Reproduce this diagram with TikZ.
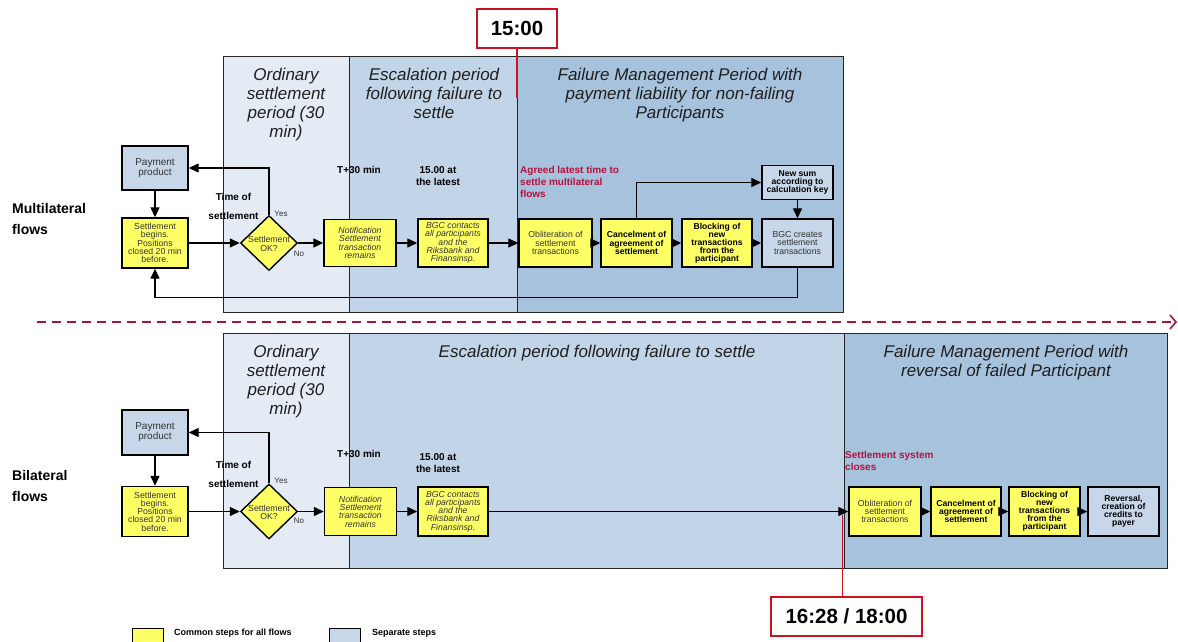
\documentclass[tikz,border=0pt]{standalone}
\usepackage{fontspec}
\setmainfont{Liberation Sans}
\usetikzlibrary{arrows.meta,shapes.geometric}
\definecolor{colA}{HTML}{E4EBF4}
\definecolor{colB}{HTML}{C2D4E8}
\definecolor{colC}{HTML}{A7C2DD}
\definecolor{yel}{HTML}{FFFF66}
\definecolor{lblue}{HTML}{C7D6E9}
\definecolor{redtxt}{HTML}{B3123C}
\definecolor{redln}{HTML}{CC1122}
\definecolor{dashred}{HTML}{A4143C}
\definecolor{txtg}{HTML}{333333}
\definecolor{panelln}{HTML}{262626}
\tikzset{
  ybox/.style={draw=black, line width=1.4pt, fill=yel, align=center, inner sep=0pt,
    font=\fontsize{8.7}{8.3}\selectfont, text=txtg},
  bbox/.style={ybox, fill=lblue},
  boldtxt/.style={font=\bfseries\fontsize{8.6}{8.1}\selectfont, text=black},
  itxt/.style={font=\itshape\fontsize{8.7}{8.3}\selectfont},
  arr/.style={line width=1.3pt, -{Triangle[length=10pt,width=9pt]}},
  plain/.style={line width=1.3pt},
  panel/.style={draw=panelln, line width=1pt},
  hdr/.style={font=\itshape\fontsize{17}{19}\selectfont, align=center, inner sep=0pt, text=black!88},
  lbl/.style={font=\bfseries\fontsize{10}{12}\selectfont, inner sep=0pt, align=center},
  redlbl/.style={font=\bfseries\fontsize{10}{12}\selectfont, inner sep=0pt, align=left, text=redtxt},
  yn/.style={font=\fontsize{8}{9}\selectfont, inner sep=0pt, text=txtg},
  flowlbl/.style={font=\bfseries\fontsize{14}{21}\selectfont, inner sep=0pt, align=left},
  timebox/.style={draw=redln, line width=1.3pt, fill=white, font=\bfseries\fontsize{20.5}{22}\selectfont, inner sep=0pt},
  redline/.style={draw=redln, line width=1.3pt},
  dmd/.style={diamond, draw=black, line width=1.4pt, fill=yel, minimum width=57pt, minimum height=55pt, inner sep=0pt},
  dtext/.style={font=\fontsize{8.7}{8.3}\selectfont, align=center, inner sep=0pt, text=txtg},
  legtxt/.style={font=\bfseries\fontsize{9}{10}\selectfont, inner sep=0pt}
}
\begin{document}
\begin{tikzpicture}[x=1pt,y=-1pt]
\useasboundingbox (0,0) rectangle (1178,642);

% ---------- top panel ----------
\fill[colA] (223,57) rectangle (349,312);
\fill[colB] (349,57) rectangle (517,312);
\fill[colC] (517,57) rectangle (843,312);
\draw[panel] (223,57) rectangle (843,312);
\draw[panel] (349,57) -- (349,312);
\draw[panel] (517,57) -- (517,312);

% ---------- bottom panel ----------
\fill[colA] (223,333) rectangle (349,568);
\fill[colB] (349,333) rectangle (844,568);
\fill[colC] (844,333) rectangle (1167,568);
\draw[panel] (223,333) rectangle (1167,568);
\draw[panel] (349,333) -- (349,568);
\draw[panel] (844,333) -- (844,568);

% ---------- headers ----------
\node[hdr, anchor=north] (h11) at (286,68) {Ordinary\\settlement\\period (30\\min)};
\node[hdr, anchor=north] (h12) at (434,68) {Escalation period\\following failure to\\settle};
\node[hdr, anchor=north] (h13) at (680,68) {Failure Management Period with\\payment liability for non-failing\\Participants};
\node[hdr, anchor=north] (h21) at (286,344.5) {Ordinary\\settlement\\period (30\\min)};
\node[hdr, anchor=north] (h22) at (597,344.5) {Escalation period following failure to settle};
\node[hdr, anchor=north] (h23) at (1006,344.5) {Failure Management Period with\\reversal of failed Participant};

% ---------- time markers ----------
\node[timebox, minimum width=80pt, minimum height=39pt] (t1500) at (517,28.5) {15:00};
\coordinate (r1) at (517,98);
\draw[redline] (t1500.south) -- (r1);
\node[timebox, minimum width=151pt, minimum height=39pt] (t1628) at (846.5,616.5) {16:28 / 18:00};
\coordinate (r2) at (842.5,515);
\draw[redline] (t1628.north -| r2) -- (r2);

% ---------- dashed separator ----------
\coordinate (da) at (37,322);
\coordinate (db) at (1177,322);
\draw[dashred, line width=1.6pt, dash pattern=on 9pt off 6pt, -{Straight Barb[length=6pt,width=14pt]}] (da) -- (db);

% ---------- flow labels ----------
\node[flowlbl, anchor=north west] (ml) at (12,203.5) {Multilateral\\flows};
\node[flowlbl, anchor=north west] (bl) at (12,470) {Bilateral\\flows};

% ---------- top row nodes ----------
\node[bbox, minimum width=66pt, minimum height=44pt, font=\fontsize{10}{10}\selectfont] (pp1) at (155,168) {Payment\\product};
\node[ybox, minimum width=66pt, minimum height=50pt] (sb1) at (155,243) {Settlement\\begins.\\Positions\\closed 20 min\\before.};
\node[dmd] (d1) at (269,243) {};
\node[dtext] (d1t) at (269,244) {Settlement\\OK?};
\node[ybox, itxt, minimum width=72pt, minimum height=47pt] (nt1) at (360,243) {Notification\\Settlement\\transaction\\remains};
\node[ybox, itxt, minimum width=70pt, minimum height=48pt] (bc1) at (453,243) {BGC contacts\\all participants\\and the\\Riksbank and\\Finansinsp.};
\node[ybox, minimum width=73pt, minimum height=48pt] (ob1) at (555.5,243) {Obliteration of\\settlement\\transactions};
\node[ybox, boldtxt, minimum width=71pt, minimum height=48pt] (ca1) at (636.5,243) {Cancelment of\\agreement of\\settlement};
\node[ybox, boldtxt, minimum width=70pt, minimum height=48pt] (bk1) at (717,243) {Blocking of\\new\\transactions\\from the\\participant};
\node[bbox, minimum width=71pt, minimum height=48pt] (bg1) at (797.5,243) {BGC creates\\settlement\\transactions};
\node[bbox, boldtxt, minimum width=71pt, minimum height=34pt] (ns1) at (797.5,182.5) {New sum\\according to\\calculation key};

\node[lbl, anchor=north] (tm1) at (233.5,192.7) {Time of\\[7pt]settlement};
\node[yn, anchor=base] (y1) at (281,216) {Yes};
\node[yn, anchor=base] (n1) at (299,256) {No};
\node[lbl, anchor=base] (tp1) at (359,173) {T+30 min};
\node[lbl, anchor=north] (la1) at (438,166.8) {15.00 at\\the latest};
\node[redlbl, anchor=north west] (ag1) at (520,165.8) {Agreed latest time to\\settle multilateral\\flows};

% top row connectors
\draw[arr] (pp1.south) -- (sb1.north);
\draw[arr] (sb1.east) -- (d1.west);
\draw[arr] (d1.north) |- (pp1.east);
\draw[arr] (d1.east) -- (nt1.west);
\draw[arr] (nt1.east) -- (bc1.west);
\draw[arr] (bc1.east) -- (ob1.west);
\draw[arr] (ob1.east) -- (ca1.west);
\draw[arr] (ca1.east) -- (bk1.west);
\draw[arr] (bk1.east) -- (bg1.west);
\draw[arr] (ca1.north) |- (ns1.west);
\draw[arr] (ns1.south) -- (bg1.north);
\draw[arr] (bg1.south) -- ++(0,30) -| (sb1.south);

% ---------- bottom row nodes ----------
\node[bbox, minimum width=66pt, minimum height=45pt, font=\fontsize{10}{10}\selectfont] (pp2) at (155,432.5) {Payment\\product};
\node[ybox, minimum width=66pt, minimum height=50pt] (sb2) at (155,511.5) {Settlement\\begins.\\Positions\\closed 20 min\\before.};
\node[dmd] (d2) at (269,511.5) {};
\node[dtext] (d2t) at (269,512.5) {Settlement\\OK?};
\node[ybox, itxt, minimum width=72pt, minimum height=48pt] (nt2) at (360.5,511.5) {Notification\\Settlement\\transaction\\remains};
\node[ybox, itxt, minimum width=70pt, minimum height=49pt] (bc2) at (453,511.5) {BGC contacts\\all participants\\and the\\Riksbank and\\Finansinsp.};
\node[ybox, minimum width=72pt, minimum height=49pt] (ob2) at (885,511.5) {Obliteration of\\settlement\\transactions};
\node[ybox, boldtxt, minimum width=70pt, minimum height=49pt] (ca2) at (966,511.5) {Cancelment of\\agreement of\\settlement};
\node[ybox, boldtxt, minimum width=71pt, minimum height=49pt] (bk2) at (1044.5,511.5) {Blocking of\\new\\transactions\\from the\\participant};
\node[bbox, boldtxt, minimum width=71pt, minimum height=49pt] (rv2) at (1123.5,511.5) {Reversal,\\creation of\\credits to\\payer};

\node[lbl, anchor=north] (tm2) at (233.5,460.7) {Time of\\[7pt]settlement};
\node[yn, anchor=base] (y2) at (281,483) {Yes};
\node[yn, anchor=base] (n2) at (299,523) {No};
\node[lbl, anchor=base] (tp2) at (359,457) {T+30 min};
\node[lbl, anchor=north] (la2) at (438,453.8) {15.00 at\\the latest};
\node[redlbl, anchor=north west] (sc2) at (845,450.8) {Settlement system\\closes};

% bottom row connectors
\draw[arr] (pp2.south) -- (sb2.north);
\draw[arr] (sb2.east) -- (d2.west);
\draw[arr] (d2.north) |- (pp2.east);
\draw[arr] (d2.east) -- (nt2.west);
\draw[arr] (nt2.east) -- (bc2.west);
\draw[arr] (bc2.east) -- (ob2.west);
\draw[arr] (ob2.east) -- (ca2.west);
\draw[arr] (ca2.east) -- (bk2.west);
\draw[arr] (bk2.east) -- (rv2.west);

% ---------- legend ----------
\node[ybox, minimum width=31pt, minimum height=22pt, anchor=north west] (lg1) at (132,627.5) {};
\node[legtxt, anchor=base west] (lg1t) at (174,635) {Common steps for all flows};
\node[bbox, minimum width=31pt, minimum height=22pt, anchor=north west] (lg2) at (329,627.5) {};
\node[legtxt, anchor=base west] (lg2t) at (372,635) {Separate steps};
\end{tikzpicture}
\end{document}
